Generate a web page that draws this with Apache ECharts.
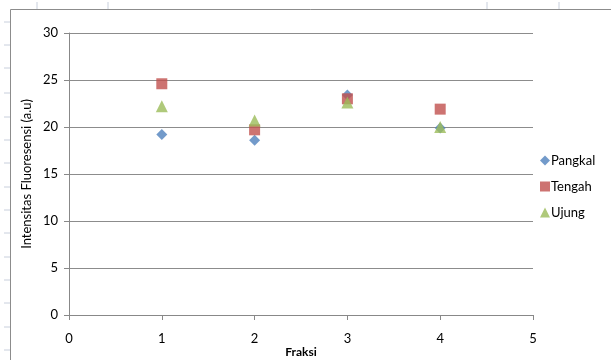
<!DOCTYPE html>
<html><head><meta charset="utf-8">
<script src="https://cdn.jsdelivr.net/npm/echarts@6/dist/echarts.min.js"></script>
<style>html,body{margin:0;padding:0;background:#fff}#c{width:611px;height:360px}</style>
</head><body><div id="c"></div>
<script>
var fraksi = [1, 2, 3, 4];
var pangkal = [19.2, 18.6, 23.4, 19.9];
var tengah = [24.6, 19.7, 23.0, 21.9];
var ujung = [22.2, 20.7, 22.6, 20.0];
var yTicks = [0, 5, 10, 15, 20, 25, 30];
var xTicks = [0, 1, 2, 3, 4, 5];

function pts(v){ return fraksi.map(function(x,i){ return [x, v[i]]; }); }
var font = 'Lato, "Open Sans", sans-serif';
var chart = echarts.init(document.getElementById('c'));
var faint = [];
[22,45,68,93,117,140,163,187,210,233,257,280,303,327,350].forEach(function(y){
  faint.push({type:'line', shape:{x1:4,y1:y,x2:10,y2:y}, style:{stroke:'#c8cfdc',lineWidth:1}});
});
[37,108,487,559].forEach(function(x){
  faint.push({type:'line', shape:{x1:x,y1:2,x2:x,y2:9}, style:{stroke:'#c8cfdc',lineWidth:1}});
});
faint.push({type:'polyline', shape:{points:[[10.5,360],[10.5,9.5],[611,9.5]]}, style:{stroke:'#8c8c8c',lineWidth:1,fill:null}});
chart.setOption({
  animation:false,
  backgroundColor:'#fff',
  graphic: faint,
  grid:{left:69, right:78, top:33, bottom:45, containLabel:false, outerBoundsMode:'none'},
  legend:{
    orient:'vertical', left:535, top:149, itemGap:13, itemWidth:10, itemHeight:10,
    textStyle:{fontFamily:font, fontSize:13, color:'#000', padding:[0,0,0,-4]},
    data:['Pangkal','Tengah','Ujung']
  },
  xAxis:{
    type:'value', min:0, max:5, interval:1,
    name:'Fraksi', nameLocation:'middle', nameGap:31, nameMoveOverlap:false,
    nameTextStyle:{fontFamily:font, fontSize:12, fontWeight:'bold', color:'#000'},
    axisLine:{lineStyle:{color:'#888', width:1}},
    axisTick:{show:true, length:5, lineStyle:{color:'#888'}},
    axisLabel:{fontFamily:font, fontSize:13, color:'#000', margin:17,
      formatter:function(v){ return xTicks.indexOf(v)>=0 ? String(v) : ''; }},
    splitLine:{show:false}
  },
  yAxis:{
    type:'value', min:0, max:30, interval:5,
    name:'Intensitas Fluoresensi (a.u)', nameLocation:'middle', nameGap:36, nameRotate:90, nameMoveOverlap:false,
    nameTextStyle:{fontFamily:font, fontSize:13, color:'#000'},
    axisLine:{show:true, lineStyle:{color:'#888', width:1}},
    axisTick:{show:true, length:5, lineStyle:{color:'#888'}},
    axisLabel:{fontFamily:font, fontSize:13, color:'#000', margin:11,
      formatter:function(v){ return yTicks.indexOf(v)>=0 ? String(v) : ''; }},
    splitLine:{show:true, lineStyle:{color:'#8c8c8c', width:1}}
  },
  series:[
    {name:'Pangkal', type:'scatter', symbol:'diamond', symbolSize:11, itemStyle:{color:'#4F81BD'}, data:pts(pangkal)},
    {name:'Tengah', type:'scatter', symbol:'rect', symbolSize:11, itemStyle:{color:'#C0504D'}, data:pts(tengah)},
    {name:'Ujung', type:'scatter', symbol:'triangle', symbolSize:12, itemStyle:{color:'#9BBB59'}, data:pts(ujung)}
  ]
});
</script></body></html>
